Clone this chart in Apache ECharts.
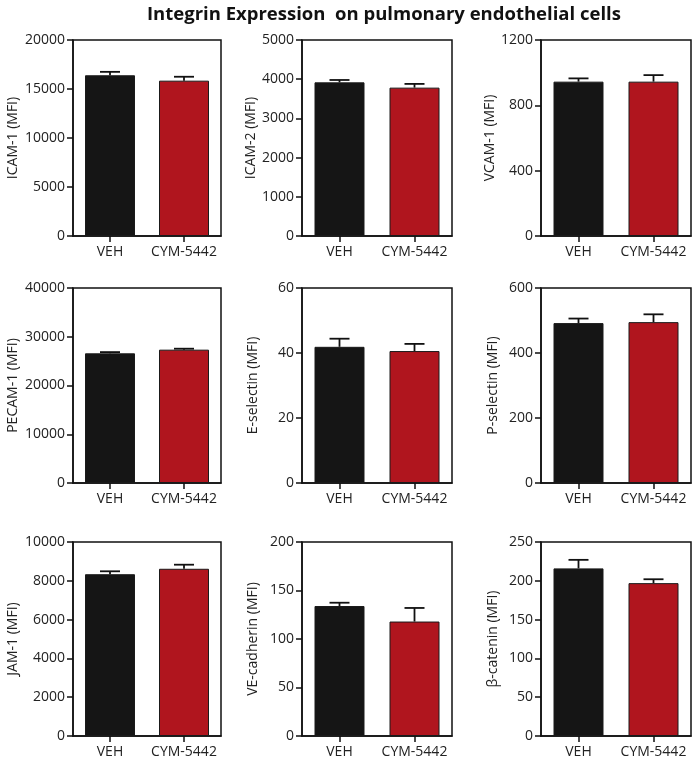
<!DOCTYPE html>
<html>
<head>
<meta charset="utf-8">
<script src="https://cdn.jsdelivr.net/npm/echarts@6/dist/echarts.min.js"></script>
<style>
  html, body { margin: 0; padding: 0; background: #fff; }
  #chart { width: 694px; height: 762px; }
</style>
</head>
<body>
<div id="chart"></div>
<script>
var categories = ['VEH', 'CYM-5442'];
var axisNames = ['ICAM-1 (MFI)', 'ICAM-2 (MFI)', 'VCAM-1 (MFI)',
                 'PECAM-1 (MFI)', 'E-selectin (MFI)', 'P-selectin (MFI)',
                 'JAM-1 (MFI)', 'VE-cadherin (MFI)', 'β-catenin (MFI)'];
var vehMean = [16400, 3920, 945, 26600, 41.9, 492, 8340, 134, 216];
var vehErr  = [350, 60, 20, 250, 2.5, 14, 150, 3.4, 11];
var cymMean = [15850, 3785, 945, 27350, 40.6, 495, 8620, 118, 197];
var cymErr  = [400, 95, 40, 200, 2.2, 24, 210, 14, 5];
var yMax      = [20000, 5000, 1200, 40000, 60, 600, 10000, 200, 250];
var yInterval = [5000, 1000, 400, 10000, 20, 200, 2000, 50, 50];

var colLeft = [73, 302, 541];
var colWidth = [148, 150, 150];
var rowTop = [40, 288, 542];
var rowHeight = [196, 195, 194];
var nameGaps = [53, 42, 41];

var font = 'Open Sans';
var grids = [], xAxes = [], yAxes = [], series = [];

for (var i = 0; i < 9; i++) {
    var r = Math.floor(i / 3), c = i % 3;
    grids.push({
        left: colLeft[c], top: rowTop[r], width: colWidth[c], height: rowHeight[r],
        show: true, borderColor: '#111', borderWidth: 1.5
    });
    xAxes.push({
        type: 'category', gridIndex: i, data: categories,
        axisLine: { show: true, lineStyle: { color: '#111', width: 1.5 } },
        axisTick: { show: true, alignWithLabel: true, length: 6, lineStyle: { color: '#111', width: 1.5 } },
        axisLabel: { interval: 0, color: '#222', fontFamily: font, fontSize: 14, margin: 9 },
        splitLine: { show: false }
    });
    yAxes.push({
        type: 'value', gridIndex: i, min: 0, max: yMax[i], interval: yInterval[i],
        name: axisNames[i], nameLocation: 'middle', nameGap: nameGaps[c], nameRotate: 90,
        nameTextStyle: { color: '#222', fontFamily: font, fontSize: 14 },
        axisLine: { show: true, lineStyle: { color: '#111', width: 1.5 } },
        axisTick: { show: true, length: 6, lineStyle: { color: '#111', width: 1.5 } },
        axisLabel: {
            color: '#222', fontFamily: font, fontSize: 14, margin: 8,
            formatter: function (v) { return String(v); }
        },
        splitLine: { show: false }
    });
    series.push({
        type: 'bar', xAxisIndex: i, yAxisIndex: i, barWidth: 50,
        data: [
            { value: vehMean[i], itemStyle: { color: '#151515' } },
            { value: cymMean[i], itemStyle: { color: '#b0151e' } }
        ],
        itemStyle: { borderColor: '#1a1a1a', borderWidth: 1 },
        silent: true
    });
    series.push({
        type: 'custom', xAxisIndex: i, yAxisIndex: i, z: 3,
        data: [[0, vehMean[i], vehErr[i]], [1, cymMean[i], cymErr[i]]],
        renderItem: function (params, api) {
            var x = api.value(0);
            var base = api.coord([x, api.value(1)]);
            var top = api.coord([x, api.value(1) + api.value(2)]);
            var st = { stroke: '#111', lineWidth: 1.8 };
            return {
                type: 'group',
                children: [
                    { type: 'line', shape: { x1: base[0], y1: base[1], x2: top[0], y2: top[1] }, style: st },
                    { type: 'line', shape: { x1: top[0] - 10, y1: top[1], x2: top[0] + 10, y2: top[1] }, style: st }
                ]
            };
        }
    });
}

var chart = echarts.init(document.getElementById('chart'));
chart.setOption({
    animation: false,
    backgroundColor: '#fff',
    title: {
        text: 'Integrin Expression  on pulmonary endothelial cells',
        left: 142, top: 0,
        textStyle: { fontFamily: font, fontSize: 18.5, fontWeight: 'bold', color: '#111' }
    },
    grid: grids,
    xAxis: xAxes,
    yAxis: yAxes,
    series: series
});
</script>
</body>
</html>
